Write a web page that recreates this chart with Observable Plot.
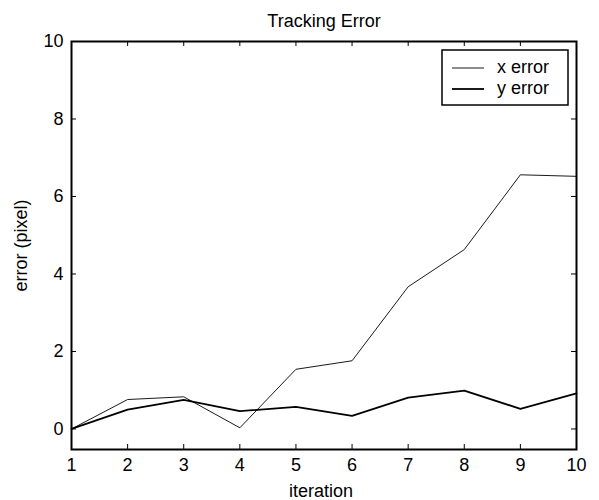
<!DOCTYPE html>
<html>
<head>
<meta charset="utf-8">
<script src="https://cdn.jsdelivr.net/npm/d3@7"></script>
<script src="https://cdn.jsdelivr.net/npm/@observablehq/plot@0.6"></script>
<style>
  html, body { margin: 0; padding: 0; background: #fff; }
</style>
</head>
<body>
<div id="chart"></div>
<script>
const iterations = [1, 2, 3, 4, 5, 6, 7, 8, 9, 10];
const xError = [0, 0.76, 0.83, 0.03, 1.54, 1.76, 3.67, 4.63, 6.56, 6.52];
const yError = [0, 0.50, 0.75, 0.46, 0.57, 0.34, 0.81, 0.99, 0.52, 0.92];
const seriesNames = ["x error", "y error"];
const xTicks = [1, 2, 3, 4, 5, 6, 7, 8, 9, 10];
const yTicks = [0, 2, 4, 6, 8, 10];
const titleText = "Tracking Error";
const xLabel = "iteration";
const yLabel = "error (pixel)";

const W = 599, H = 500;
const mL = 71, mR = 23, mT = 41, mB = 51;
const pw = W - mL - mR, ph = H - mT - mB;
const tickLen = 5;

const dataX = iterations.map((it, i) => ({it, v: xError[i]}));
const dataY = iterations.map((it, i) => ({it, v: yError[i]}));

const chart = Plot.plot({
  width: W,
  height: H,
  marginLeft: mL,
  marginRight: mR,
  marginTop: mT,
  marginBottom: mB,
  style: {fontFamily: "'Liberation Sans', Arial, Helvetica, sans-serif", fontSize: "18px", color: "#000", background: "#fff"},
  x: {domain: [1, 10]},
  y: {domain: [-0.53, 10]},
  marks: [
    Plot.axisX(xTicks, {anchor: "bottom", tickSize: 0, tickPadding: 9, label: null, fontSize: 18, tickFormat: d => String(d)}),
    Plot.axisY(yTicks, {anchor: "left", tickSize: 0, tickPadding: 8, label: null, fontSize: 18, tickFormat: d => String(d)}),
    // inward ticks on all four sides
    Plot.tickX(xTicks, {x: d => d, insetTop: ph - tickLen, stroke: "#000", strokeWidth: 1}),
    Plot.tickX(xTicks, {x: d => d, insetBottom: ph - tickLen, stroke: "#000", strokeWidth: 1}),
    Plot.tickY(yTicks, {y: d => d, insetRight: pw - tickLen, stroke: "#000", strokeWidth: 1}),
    Plot.tickY(yTicks, {y: d => d, insetLeft: pw - tickLen, stroke: "#000", strokeWidth: 1}),
    Plot.line(dataX, {x: "it", y: "v", stroke: "#000", strokeWidth: 0.9}),
    Plot.line(dataY, {x: "it", y: "v", stroke: "#000", strokeWidth: 1.8}),
    Plot.frame({stroke: "#000", strokeWidth: 2}),
    Plot.text([titleText], {text: d => d, frameAnchor: "top", dy: -15, lineAnchor: "bottom", textAnchor: "middle", fontSize: 18, fill: "#000"}),
    Plot.text([xLabel], {text: d => d, frameAnchor: "bottom", dx: -3, dy: 47, lineAnchor: "bottom", textAnchor: "middle", fontSize: 18, fill: "#000"}),
    Plot.text([yLabel], {text: d => d, frameAnchor: "left", dx: -50, rotate: -90, lineAnchor: "middle", textAnchor: "middle", fontSize: 18, fill: "#000"})
  ]
});

document.getElementById("chart").appendChild(chart);

// legend box (MATLAB-style) drawn inside the plot's SVG
const svg = d3.select(chart);
const lg = svg.append("g")
  .attr("font-family", "'Liberation Sans', Arial, Helvetica, sans-serif")
  .attr("font-size", 18)
  .attr("text-anchor", "start");
lg.append("rect").attr("x", 442).attr("y", 50).attr("width", 126).attr("height", 55)
  .attr("fill", "#fff").attr("stroke", "#000").attr("stroke-width", 1.5);
const legendWidths = [0.9, 1.8];
const legendYs = [68, 89];
seriesNames.forEach((name, i) => {
  lg.append("line").attr("x1", 452).attr("x2", 484).attr("y1", legendYs[i]).attr("y2", legendYs[i])
    .attr("stroke", "#000").attr("stroke-width", legendWidths[i]);
  lg.append("text").attr("x", 497).attr("y", legendYs[i] + 5).attr("fill", "#000")
    .attr("text-anchor", "start").text(name);
});
</script>
</body>
</html>
